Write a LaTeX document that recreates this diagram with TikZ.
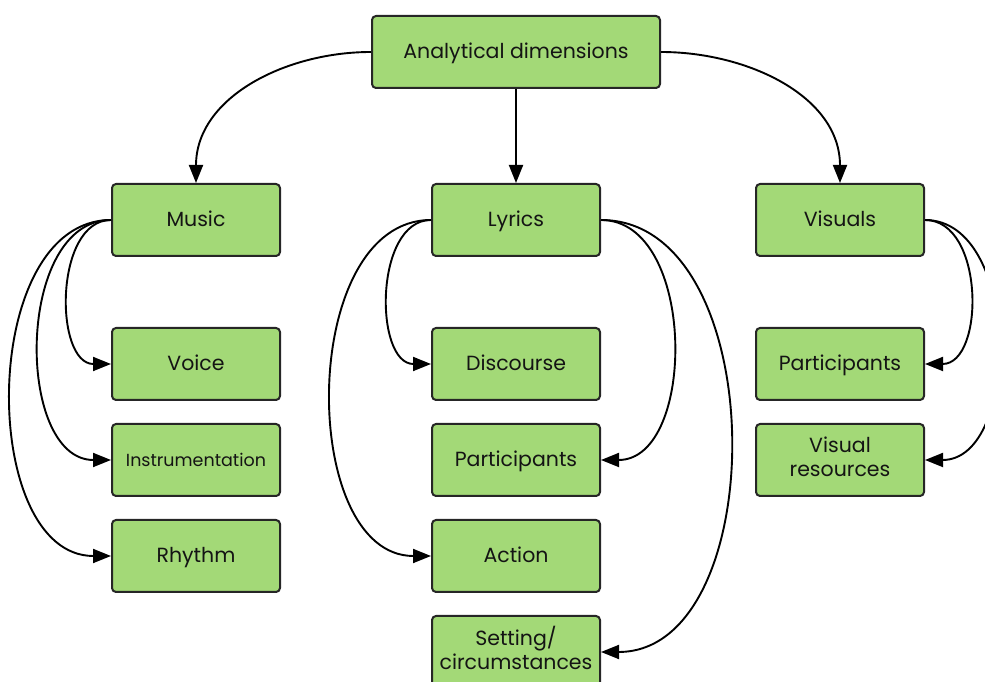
\documentclass[tikz,border=0pt]{standalone}
\usepackage{fontspec}
\setmainfont{Poppins}
\usetikzlibrary{arrows.meta}
\definecolor{boxgreen}{RGB}{163,217,119}
\newcommand{\twolines}[2]{\raisebox{3pt}{\begin{tabular}{@{}c@{}}#1\\[-1pt]#2\end{tabular}}}
\begin{document}
\begin{tikzpicture}[x=1pt,y=1pt,
  boxbase/.style={draw=black!85, line width=2pt, rounded corners=4pt, fill=boxgreen,
    minimum width=168pt, minimum height=72pt, inner sep=0pt, align=center,
    text=black!92, font=\fontsize{20.5}{25}\selectfont},
  box/.style={boxbase, text height=17pt, text depth=3pt},
  twoline/.style={boxbase},
  link/.style={line width=1.9pt, -{Triangle[length=18pt,width=14pt]}}
]
\useasboundingbox (0,0) rectangle (985,682);

% root and the three dimensions
\node[box, minimum width=288pt] (root) at (516,630) {Analytical dimensions};
\node[box] (music)   at (196,462) {Music};
\node[box] (lyrics)  at (516,462) {Lyrics};
\node[box] (visuals) at (840,462) {Visuals};

% music column
\node[box] (voice)  at (196,318) {Voice};
\node[box, font=\fontsize{17.5}{22}\selectfont] (instr) at (196,222) {Instrumentation};
\node[box] (rhythm) at (196,126) {Rhythm};

% lyrics column
\node[box] (disc)    at (516,318) {Discourse};
\node[box] (lpart)   at (516,222) {Participants};
\node[box] (action)  at (516,126) {Action};
\node[twoline] (setting) at (516,30)  {\twolines{Setting/}{circumstances}};

% visuals column
\node[box] (vpart) at (840,318) {Participants};
\node[twoline] (vres)  at (840,222) {\twolines{Visual}{resources}};

% connectors from the root
\draw[link] (root.west) to[out=180,in=90] (music.north);
\draw[link] (root.south) -- (lyrics.north);
\draw[link] (root.east) to[out=0,in=90] (visuals.north);

% music branches
\draw[link] (music.west) to[out=180,in=180,distance=57pt]  (voice.west);
\draw[link] (music.west) to[out=180,in=180,distance=96pt]  (instr.west);
\draw[link] (music.west) to[out=180,in=180,distance=133pt] (rhythm.west);

% lyrics branches
\draw[link] (lyrics.west) to[out=180,in=180,distance=57pt]  (disc.west);
\draw[link] (lyrics.west) to[out=180,in=180,distance=133pt] (action.west);
\draw[link] (lyrics.east) to[out=0,in=0,distance=96pt]  (lpart.east);
\draw[link] (lyrics.east) to[out=0,in=0,distance=172pt] (setting.east);

% visuals branches
\draw[link] (visuals.east) to[out=0,in=0,distance=60pt] (vpart.east);
\draw[link] (visuals.east) to[out=0,in=0,distance=96pt] (vres.east);
\end{tikzpicture}
\end{document}
